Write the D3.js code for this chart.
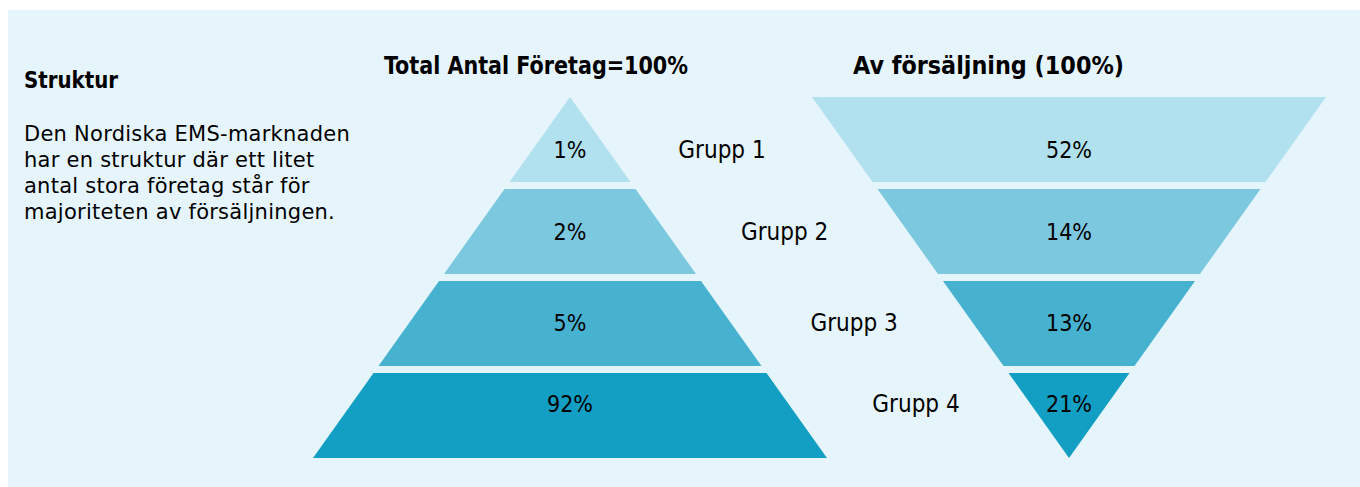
<!DOCTYPE html>
<html>
<head>
  <meta charset='utf-8'>
  <script src='https://cdn.jsdelivr.net/npm/d3@7'></script>
  <style>
    body { margin: 0; background: #fff; }
    text { fill: #000; }
    .cond { font-family: "DejaVu Sans Condensed", "DejaVu Sans", sans-serif; font-stretch: condensed; }
    .body { font-family: "DejaVu Sans", Verdana, sans-serif; }
  </style>
</head>
<body>
<script>
  // data
  const groups = ["Grupp 1", "Grupp 2", "Grupp 3", "Grupp 4"]
  const companyShare = [1, 2, 5, 92]     // andel av antal företag, %
  const salesShare = [52, 14, 13, 21]    // andel av försäljning, %
  const titles = ["Total Antal Företag=100%", "Av försäljning (100%)"]
  const heading = "Struktur"
  const bodyLines = [
    "Den Nordiska EMS-marknaden",
    "har en struktur där ett litet",
    "antal stora företag står för",
    "majoriteten av försäljningen."
  ]
  const colors = ["#b1e0ee", "#7cc8de", "#47b2d0", "#139ec3"]

  const [width, height] = [1360, 487]
  const svg = d3.select("body").append("svg")
    .attr("width", width)
    .attr("height", height)

  svg.append("rect")
    .attr("x", 8).attr("y", 10)
    .attr("width", width - 8).attr("height", height - 10)
    .attr("fill", "#e6f5fc")

  // tiers stacked top to bottom
  const y = d3.scaleBand().domain(groups).range([97, 458]).paddingInner(0.076)
  const bw = y.bandwidth()
  // half width of the shapes at a given y
  const pyrHalf = d3.scaleLinear().domain([97, 458]).range([0, 257])
  const funHalf = d3.scaleLinear().domain([97, 458]).range([257, 0])

  const cxPyr = 570, cxFun = 1069
  const labelShift = [10, 0, -1, -12]
  const labelY = (g, i) => y(g) + bw / 2 + labelShift[i]

  function tier(cx, half) {
    return g => {
      const y0 = y(g), y1 = y0 + bw
      const a = half(y0), b = half(y1)
      return [[cx - a, y0], [cx + a, y0], [cx + b, y1], [cx - b, y1]]
    }
  }
  const line = d3.line()

  function drawShape(cx, half, values) {
    const g = svg.append("g")
    g.selectAll("path")
      .data(groups)
      .join("path")
      .attr("d", d => line(tier(cx, half)(d)) + "Z")
      .attr("fill", (d, i) => colors[i])
    g.selectAll("text")
      .data(groups)
      .join("text")
      .attr("class", "cond")
      .attr("x", cx)
      .attr("y", labelY)
      .attr("dy", "0.36em")
      .attr("text-anchor", "middle")
      .attr("font-size", 23)
      .text((d, i) => values[i] + "%")
  }

  drawShape(cxPyr, pyrHalf, companyShare)
  drawShape(cxFun, funHalf, salesShare)

  // group names between the two shapes
  const gx = d3.scaleLinear()
    .domain([labelY(groups[0], 0), labelY(groups[3], 3)])
    .range([722, 916])
  svg.append("g").selectAll("text")
    .data(groups)
    .join("text")
    .attr("class", "cond")
    .attr("x", (d, i) => gx(labelY(d, i)))
    .attr("y", labelY)
    .attr("dy", "0.36em")
    .attr("text-anchor", "middle")
    .attr("font-size", 24)
    .text(d => d)

  // titles
  svg.append("text").attr("class", "cond")
    .attr("x", 384).attr("y", 74)
    .attr("font-size", 24).attr("font-weight", "bold")
    .attr("textLength", 304).attr("lengthAdjust", "spacingAndGlyphs")
    .text(titles[0])
  svg.append("text").attr("class", "cond")
    .attr("x", 853).attr("y", 74)
    .attr("font-size", 24).attr("font-weight", "bold")
    .attr("textLength", 271).attr("lengthAdjust", "spacingAndGlyphs")
    .text(titles[1])

  // left description
  svg.append("text").attr("class", "cond")
    .attr("x", 24).attr("y", 88)
    .attr("font-size", 23).attr("font-weight", "bold")
    .attr("textLength", 94).attr("lengthAdjust", "spacingAndGlyphs")
    .text(heading)
  svg.append("g").selectAll("text")
    .data(bodyLines)
    .join("text")
    .attr("class", "body")
    .attr("x", 24)
    .attr("y", (d, i) => 141 + i * 26)
    .attr("font-size", 21)
    .attr("letter-spacing", 0.25)
    .text(d => d)
</script>
</body>
</html>
